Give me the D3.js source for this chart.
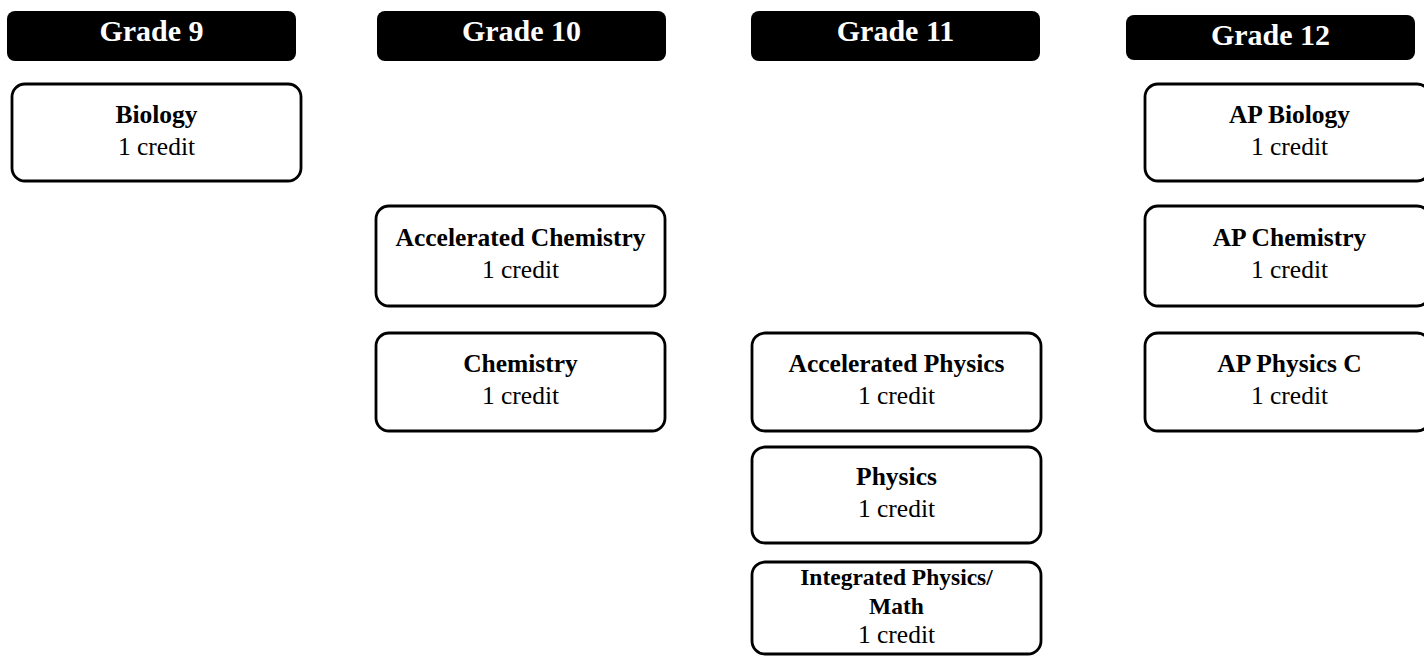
<!DOCTYPE html>
<html>
<head>
<meta charset="utf-8">
<script src="https://cdn.jsdelivr.net/npm/d3@7"></script>
<style>
    body { margin: 0; background: #fff; overflow: hidden; }
    text { font-family: "Liberation Serif", "Times New Roman", serif; }
</style>
</head>
<body>
<div id="chart"></div>
<script>
// Grades shown as column headers
var grades = ["Grade 9", "Grade 10", "Grade 11", "Grade 12"];

// Courses: name, grade column, row slot, credits
var courseNames = ["Biology", "Accelerated Chemistry", "Chemistry", "Accelerated Physics", "Physics",
    "Integrated Physics/\nMath", "AP Biology", "AP Chemistry", "AP Physics C"];
var courseGrades = ["Grade 9", "Grade 10", "Grade 10", "Grade 11", "Grade 11", "Grade 11", "Grade 12", "Grade 12", "Grade 12"];
var courseRows = [0, 1, 2, 2, 3, 4, 0, 1, 2];
var courseCredits = [1, 1, 1, 1, 1, 1, 1, 1, 1];

var width = 1424, height = 656;

/* Build the course list */
var courses = courseNames.map(function (d, i) {
    return { name: d, grade: courseGrades[i], row: courseRows[i], credits: courseCredits[i] };
});

// Layout scales
var headerX = d3.scaleOrdinal().domain(grades).range([7, 377, 751, 1126]);
var headerTop = d3.scaleOrdinal().domain(grades).range([11, 11, 11, 15]);
var headerH = d3.scaleOrdinal().domain(grades).range([50, 50, 50, 45]);
var boxX = d3.scaleOrdinal().domain(grades).range([12, 376, 752, 1145]);
var boxW = d3.scaleOrdinal().domain(grades).range([289, 289, 289, 285]);
var rowTop = d3.scaleOrdinal().domain([0, 1, 2, 3, 4]).range([84, 206, 333, 447, 562]);
var rowH = d3.scaleOrdinal().domain([0, 1, 2, 3, 4]).range([97, 100, 98, 96, 92]);
var colW = 289;

var svg = d3.select("#chart").append("svg")
    .attr("width", width)
    .attr("height", height);

/* Grade headers */
var headers = svg.selectAll(".header")
    .data(grades)
    .join("g")
    .attr("class", "header");

headers.append("rect")
    .attr("x", d => headerX(d))
    .attr("y", d => headerTop(d))
    .attr("width", colW)
    .attr("height", d => headerH(d))
    .attr("rx", 8)
    .attr("fill", "#000");

headers.append("text")
    .attr("x", d => headerX(d) + colW / 2)
    .attr("y", d => headerTop(d) + 30)
    .attr("text-anchor", "middle")
    .attr("font-size", 30)
    .attr("font-weight", "bold")
    .attr("fill", "#fff")
    .text(d => d);

/* Course boxes */
var boxes = svg.selectAll(".course")
    .data(courses)
    .join("g")
    .attr("class", "course");

boxes.append("rect")
    .attr("x", d => boxX(d.grade))
    .attr("y", d => rowTop(d.row))
    .attr("width", d => boxW(d.grade))
    .attr("height", d => rowH(d.row))
    .attr("rx", 13)
    .attr("fill", "#fff")
    .attr("stroke", "#000")
    .attr("stroke-width", 2.8);

//Text lines: course name (bold) then credits
boxes.each(function (d) {
    var g = d3.select(this);
    var nameLines = d.name.split("\n");
    var lines = nameLines.map(t => ({ text: t, bold: true, size: nameLines.length > 1 ? 23.5 : 25.5 }));
    lines.push({ text: d.credits + " credit", bold: false, size: 25.5 });
    var n = lines.length;
    var gap = n > 2 ? 29 : 32;
    var cx = boxX(d.grade) + colW / 2;
    var cy = rowTop(d.row) + rowH(d.row) / 2 + 6;
    lines.forEach(function (l, i) {
        g.append("text")
            .attr("x", cx)
            .attr("y", cy + (i - (n - 1) / 2) * gap)
            .attr("text-anchor", "middle")
            .attr("font-size", l.size)
            .attr("font-weight", l.bold ? "bold" : "normal")
            .attr("fill", "#000")
            .text(l.text);
    });
});
</script>
</body>
</html>
